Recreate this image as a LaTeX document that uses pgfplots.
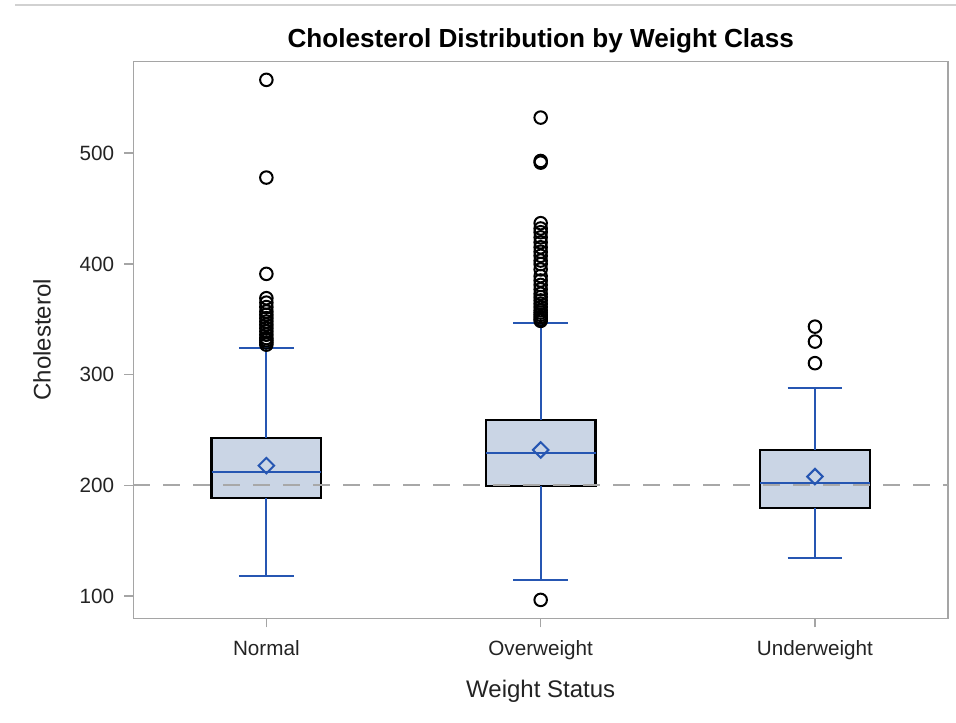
\documentclass[border=0pt]{standalone}
\usepackage{pgfplots}
\pgfplotsset{compat=1.18}
\usepackage{fontspec}
\setmainfont{Liberation Sans}
\definecolor{sasblue}{RGB}{38,86,178}
\definecolor{boxfill}{RGB}{202,213,229}
\definecolor{framegray}{RGB}{165,165,165}
\definecolor{refgray}{RGB}{168,168,168}
\definecolor{txtgray}{RGB}{35,35,35}
\begin{document}
\begin{tikzpicture}
\useasboundingbox (0,0) rectangle (717pt,541.5pt);
\draw[line width=1.5pt, black!18] (11.25pt,537.75pt) -- (717pt,537.75pt);
\begin{axis}[
  at={(100pt,77.8pt)}, anchor=south west,
  scale only axis, width=611pt, height=417.5pt,
  xmin=-0.485, xmax=2.485, ymin=79.8, ymax=582.8,
  xtick={0,1,2}, xticklabels={Normal,Overweight,Underweight},
  ytick={100,200,300,400,500},
  xtick pos=bottom, ytick pos=left,
  tick align=outside, major tick length=6.75pt,
  axis line style={framegray, line width=1.1pt},
  tick style={framegray, line width=1.1pt},
  /pgf/number format/assume math mode=true,
  tick label style={font=\fontsize{15.5}{18}\selectfont, text=txtgray, inner sep=0pt},
  xticklabel style={anchor=base, yshift=-21.5pt},
  yticklabel style={anchor=east, xshift=-7.5pt},
  title={Cholesterol Distribution by Weight Class},
  title style={font=\fontsize{19.6}{23}\selectfont\bfseries, anchor=base, yshift=4.4pt, inner sep=0pt},
  xlabel={Weight Status},
  xlabel style={font=\fontsize{18}{21}\selectfont, text=txtgray, anchor=base, yshift=-27.8pt, inner sep=0pt},
  ylabel={Cholesterol},
  ylabel style={font=\fontsize{18}{21}\selectfont, text=txtgray, anchor=base, yshift=21.8pt, inner sep=0pt},
]
% boxes (Q1..Q3)
\addplot[fill=boxfill, draw=black, line width=1.6pt, line join=miter] coordinates {(-0.2,188.3) (0.2,188.3) (0.2,243.0) (-0.2,243.0)} -- cycle;
\addplot[fill=boxfill, draw=black, line width=1.6pt, line join=miter] coordinates {(0.8,199.7) (1.2,199.7) (1.2,259.0) (0.8,259.0)} -- cycle;
\addplot[fill=boxfill, draw=black, line width=1.6pt, line join=miter] coordinates {(1.8,179.8) (2.2,179.8) (2.2,231.9) (1.8,231.9)} -- cycle;
% reference line
\addplot[refgray, line width=1.2pt, dash pattern=on 12.75pt off 9.75pt]
  coordinates {(-0.485,200) (2.485,200)};
% medians
\addplot[sasblue, line width=1.5pt] coordinates {(-0.2,212.3) (0.2,212.3)};
\addplot[sasblue, line width=1.5pt] coordinates {(0.8,228.9) (1.2,228.9)};
\addplot[sasblue, line width=1.5pt] coordinates {(1.8,201.8) (2.2,201.8)};
% whiskers
\addplot[sasblue, line width=1.5pt] coordinates {(0,243.0) (0,324.4)};
\addplot[sasblue, line width=1.5pt] coordinates {(-0.1,324.4) (0.1,324.4)};
\addplot[sasblue, line width=1.5pt] coordinates {(0,188.3) (0,118.3)};
\addplot[sasblue, line width=1.5pt] coordinates {(-0.1,118.3) (0.1,118.3)};
\addplot[sasblue, line width=1.5pt] coordinates {(1,259.0) (1,346.4)};
\addplot[sasblue, line width=1.5pt] coordinates {(0.9,346.4) (1.1,346.4)};
\addplot[sasblue, line width=1.5pt] coordinates {(1,199.7) (1,114.5)};
\addplot[sasblue, line width=1.5pt] coordinates {(0.9,114.5) (1.1,114.5)};
\addplot[sasblue, line width=1.5pt] coordinates {(2,231.9) (2,288.2)};
\addplot[sasblue, line width=1.5pt] coordinates {(1.9,288.2) (2.1,288.2)};
\addplot[sasblue, line width=1.5pt] coordinates {(2,179.8) (2,134.6)};
\addplot[sasblue, line width=1.5pt] coordinates {(1.9,134.6) (2.1,134.6)};
% means
\addplot[only marks, mark=square, mark size=4.1pt, mark options={rotate=45, draw=sasblue, line width=1.5pt, fill=none}]
  coordinates {(0,217.7) (1,231.9) (2,207.8)};
% outliers
\addplot[only marks, mark=o, mark size=4.7pt, mark options={draw=black, line width=1.5pt, fill=none}]
  coordinates {(0,566.3) (0,478.0) (0,391.0) (0,369) (0,365) (0,361) (0,357) (0,354) (0,351) (0,348)
    (0,345) (0,342) (0,339) (0,336) (0,333) (0,331) (0,329) (0,327)
    (1,532.2) (1,493.0) (1,491.5) (1,436.8) (1,432) (1,428.6) (1,424) (1,419.5) (1,415) (1,411)
    (1,407.3) (1,403) (1,399.8) (1,395) (1,389) (1,385) (1,381) (1,377) (1,373) (1,370) (1,367)
    (1,364) (1,361) (1,358) (1,356) (1,354) (1,352) (1,350) (1,348.5) (1,96.4)
    (2,343.3) (2,329.8) (2,310.3)};
\end{axis}
\end{tikzpicture}
\end{document}
